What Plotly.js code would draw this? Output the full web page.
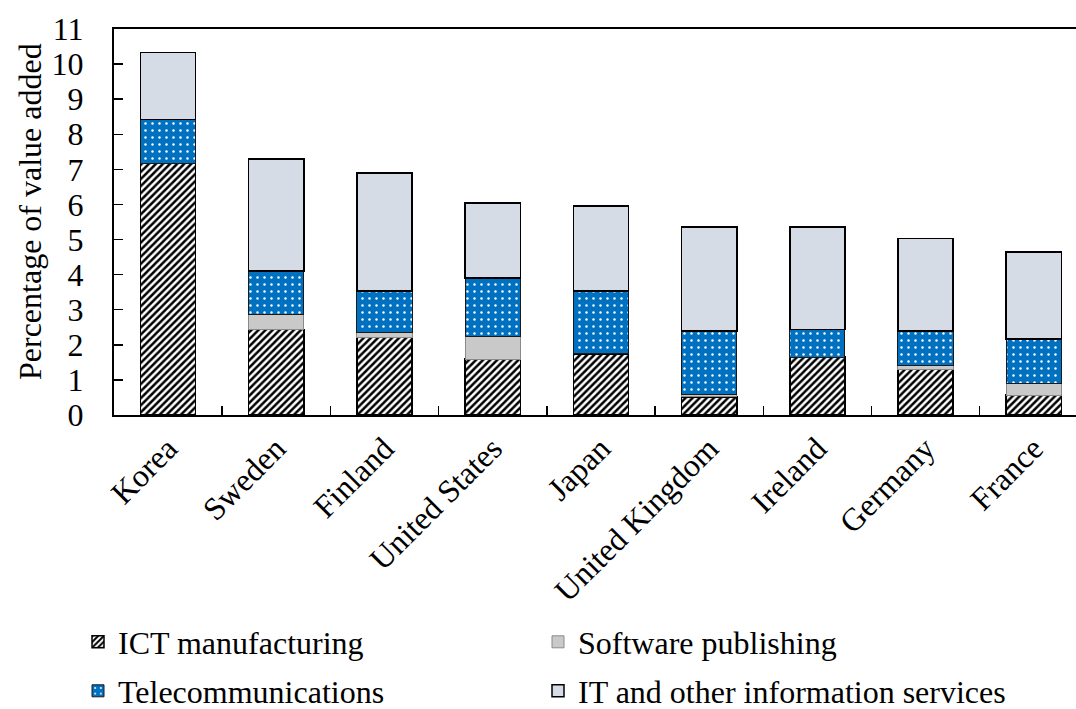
<!DOCTYPE html>
<html>
<head>
<meta charset="utf-8">
<script src="https://cdn.plot.ly/plotly-3.0.1.min.js"></script>
<style>html,body{margin:0;padding:0;background:#fff;}#chart{width:1076px;height:709px;}</style>
</head>
<body>
<div id="chart"></div>
<script>
var countries = ["Korea", "Sweden", "Finland", "United States", "Japan", "United Kingdom", "Ireland", "Germany", "France"];
var ictManufacturing = [7.17, 2.44, 2.22, 1.59, 1.74, 0.52, 1.65, 1.31, 0.57];
var softwarePublishing = [0, 0.43, 0.14, 0.65, 0, 0.07, 0, 0.09, 0.34];
var telecommunications = [1.25, 1.24, 1.17, 1.67, 1.80, 1.81, 0.79, 1.00, 1.25];
var itServices = [1.91, 3.19, 3.36, 2.13, 2.42, 2.96, 2.92, 2.63, 2.48];
var yTicks = [0,1,2,3,4,5,6,7,8,9,10,11];
var yTitle = "Percentage of value added";

var FONT = "Liberation Serif, Times New Roman, serif";
var FS = 32;
var W = 0.51;

var traces = [
  {type:"bar", name:"ICT manufacturing", x:countries, y:ictManufacturing, width:W,
   marker:{color:"#ffffff", line:{color:"#000000", width:1.5},
           pattern:{shape:"/", fgcolor:"#000000", bgcolor:"#ffffff", size:5, solidity:0.5}},
   legend:"legend"},
  {type:"bar", name:"Software publishing", x:countries, y:softwarePublishing, width:W,
   marker:{color:"#c9c9c9", line:{color:"#8a8a8a", width:1}},
   legend:"legend2"},
  {type:"bar", name:"Telecommunications", x:countries, y:telecommunications, width:W,
   marker:{color:"#0070c0", line:{color:"#1a1a1a", width:1},
           pattern:{shape:".", fgcolor:"#ffffff", bgcolor:"#0070c0", size:7, solidity:0.1}},
   legend:"legend3"},
  {type:"bar", name:"IT and other information services", x:countries, y:itServices, width:W,
   marker:{color:"#d6dce5", line:{color:"#000000", width:1.5}},
   legend:"legend4"}
];

function leg(xpx, ypx) {
  return {
    orientation:"v", xref:"container", yref:"container", xanchor:"left", yanchor:"middle",
    x:xpx/1076, y:1-ypx/709,
    font:{family:FONT, size:FS, color:"#000"}, bgcolor:"rgba(0,0,0,0)",
    itemclick:false, itemwidth:30
  };
}

var layout = {
  width:1076, height:709,
  margin:{l:114, r:0, t:29, b:294, autoexpand:false},
  paper_bgcolor:"#ffffff", plot_bgcolor:"#ffffff",
  barmode:"stack",
  font:{family:FONT, size:FS, color:"#000"},
  xaxis:{
    range:[-0.5, 8.39], type:"category",
    showline:true, linecolor:"#000", linewidth:2, mirror:true,
    ticks:"inside", ticklen:9, tickwidth:1.5, tickcolor:"#000", tickson:"boundaries",
    tickangle:-45, tickfont:{family:FONT, size:FS, color:"#000"},
    showgrid:false, zeroline:false, fixedrange:true
  },
  yaxis:{
    range:[0, 11], tickvals:yTicks, ticktext:yTicks.map(String),
    showline:true, linecolor:"#000", linewidth:2,
    ticks:"inside", ticklen:9, tickwidth:1.5, tickcolor:"#000",
    ticklabelstandoff:22,
    tickfont:{family:FONT, size:FS, color:"#000"},
    showgrid:false, zeroline:false, fixedrange:true
  },
  annotations:[{
    text:yTitle, textangle:-90, showarrow:false,
    xref:"paper", yref:"paper", x:(30-114)/962, y:1-(212-29)/386,
    xanchor:"center", yanchor:"middle",
    font:{family:FONT, size:FS, color:"#000"}
  }],
  legend:leg(78, 642),
  legend2:leg(538, 642),
  legend3:leg(78, 691),
  legend4:leg(538, 691),
  showlegend:true
};

Plotly.newPlot("chart", traces, layout, {displayModeBar:false, staticPlot:true});
</script>
</body>
</html>
